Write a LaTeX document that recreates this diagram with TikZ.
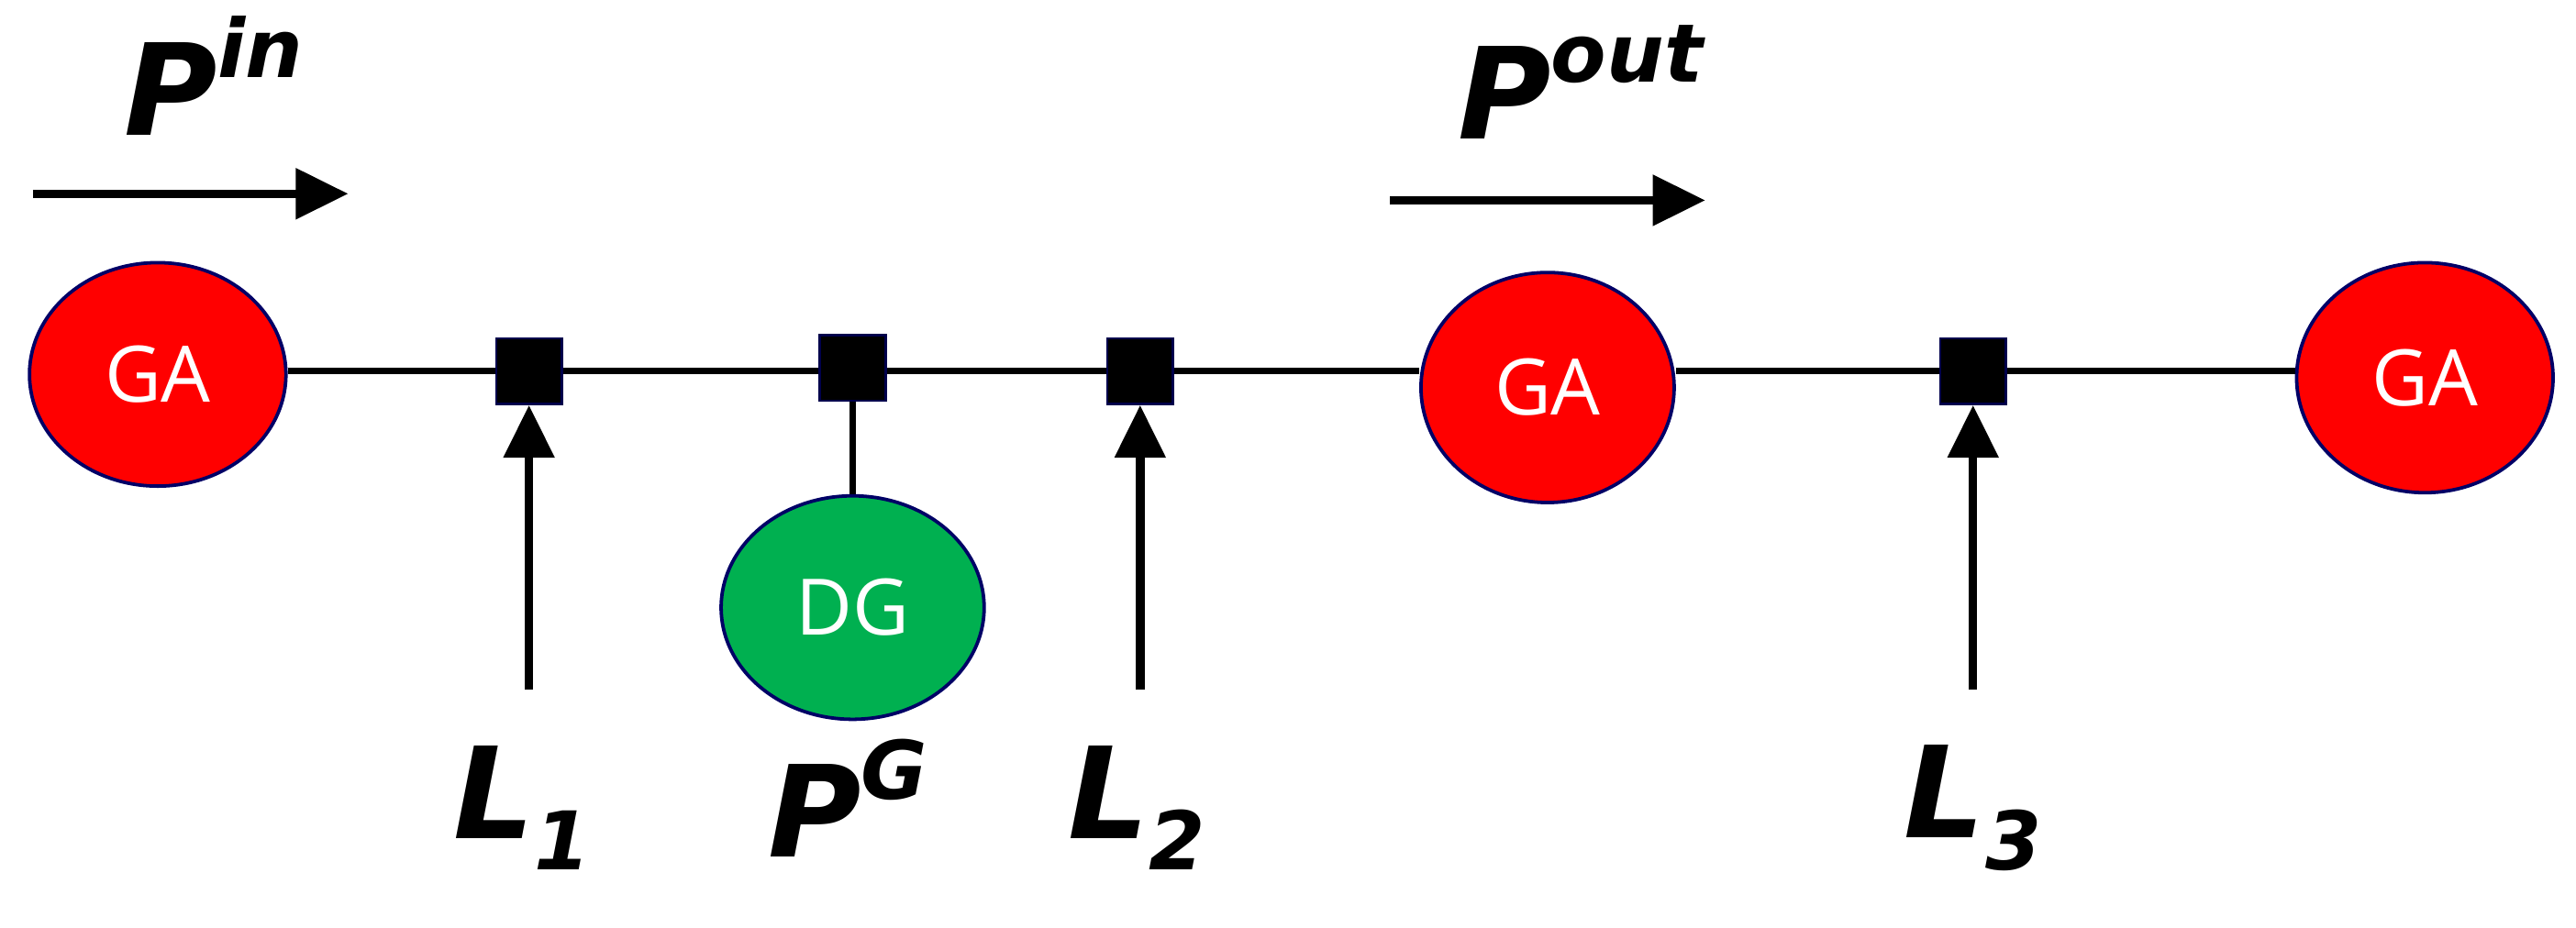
\documentclass[tikz,border=0pt]{standalone}
\usepackage{fontspec}
\setmainfont{DejaVu Sans}
\newfontfamily\osans{Open Sans}
\usetikzlibrary{arrows.meta,shapes.geometric}
\newcommand{\mysup}[1]{\raisebox{0.45em}{\fontsize{14}{14}\selectfont #1}}
\newcommand{\mysub}[1]{\raisebox{-0.25em}{\fontsize{14}{14}\selectfont #1}}
\begin{document}
\begin{tikzpicture}[x=0.01cm,y=-0.01cm,
  ga/.style={ellipse,draw=blue!40!black,line width=0.6pt,fill=red,inner sep=0pt,text=white,font=\osans\fontsize{13.5}{13.5}\selectfont},
  sq/.style={rectangle,fill=black,draw=blue!30!black,minimum size=0.4cm,inner sep=0pt},
  lbl/.style={font=\bfseries\itshape\fontsize{22}{22}\selectfont},
  ln/.style={line width=1.2pt},
  arr/.style={line width=1.5pt,-{Triangle[length=0.32cm,width=0.3cm]}}]
\useasboundingbox (0,0) rectangle (1568,565);
\node[ga,minimum width=1.56cm,minimum height=1.36cm] (g1) at (96,228) {GA};
\node[ga,minimum width=1.54cm,minimum height=1.40cm] (g2) at (942,236) {GA};
\node[ga,minimum width=1.56cm,minimum height=1.40cm] (g3) at (1476,230) {GA};
\node[ga,fill={rgb,255:red,0;green,176;blue,80},minimum width=1.60cm,minimum height=1.36cm] (dg) at (519,370) {DG};
\node[sq] (s1) at (322,226) {};
\node[sq] (s2) at (519,224) {};
\node[sq] (s3) at (694,226) {};
\node[sq] (s4) at (1201,226) {};
\begin{scope}[ln]
\draw (g1.east |- s1) -- (s1);
\draw (s1) -- (s3);
\draw (s3) -- (g2.west |- s3);
\draw (g2.east |- s4) -- (s4);
\draw (s4) -- (g3.west |- s4);
\draw (s2) -- (dg.north);
\end{scope}
\node[sq] at (322,226) {};
\node[sq] at (519,224) {};
\node[sq] at (694,226) {};
\node[sq] at (1201,226) {};
\coordinate (a1) at (322,420);
\coordinate (a2) at (694,420);
\coordinate (a3) at (1201,420);
\draw[arr] (a1) -- (s1.south);
\draw[arr] (a2) -- (s3.south);
\draw[arr] (a3) -- (s4.south);
\node[lbl] (l1) at (318,492) {L\mysub{1}};
\node[lbl] (pg) at (516,486) {P\mysup{G}};
\node[lbl] (l2) at (692,492) {L\mysub{2}};
\node[lbl] (l3) at (1201,492) {L\mysub{3}};
\node[lbl] (pin) at (130,46) {P\mysup{in}};
\node[lbl] (pout) at (962,50) {P\mysup{out}};
\coordinate (p1) at (20,118); \coordinate (p2) at (212,118);
\coordinate (q1) at (846,122); \coordinate (q2) at (1038,122);
\draw[arr] (p1) -- (p2);
\draw[arr] (q1) -- (q2);
\end{tikzpicture}
\end{document}
